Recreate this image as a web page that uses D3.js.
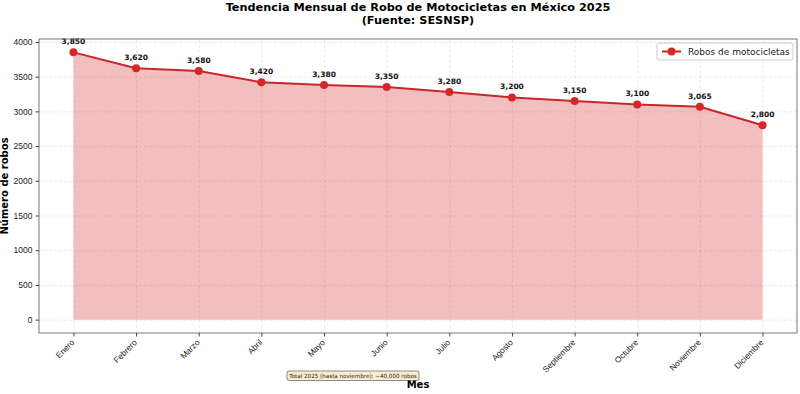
<!DOCTYPE html>
<html>
<head>
<meta charset="utf-8">
<script src="https://cdn.jsdelivr.net/npm/d3@7"></script>
<style>
  body { margin: 0; background: #fff; }
  svg { font-family: "DejaVu Sans", sans-serif; display: block; }
  .grid line { stroke: #b0b0b0; stroke-opacity: 0.25; stroke-dasharray: 3,2; }
  .grid path { display: none; }
</style>
</head>
<body>
<svg id="chart"></svg>
<script>
// chart data
const months = ["Enero", "Febrero", "Marzo", "Abril", "Mayo", "Junio", "Julio",
  "Agosto", "Septiembre", "Octubre", "Noviembre", "Diciembre"];
const robos = [3850, 3620, 3580, 3420, 3380, 3350, 3280, 3200, 3150, 3100, 3065, 2800];
const yTicks = [0, 500, 1000, 1500, 2000, 2500, 3000, 3500, 4000];

const width = 800;
const height = 394;
const plot = { left: 39, right: 797, top: 39, bottom: 333 };

const lineColor = "#c9252b";
const markerColor = "#d62728";

const svg = d3.select("#chart").attr("width", width).attr("height", height);

// scales (matplotlib-like 5% margins)
const xScale = d3.scaleLinear()
  .domain([-0.55, months.length - 1 + 0.55])
  .range([plot.left, plot.right]);

const yScale = d3.scaleLinear()
  .domain([-192.5, 4042.5])
  .range([plot.bottom, plot.top]);

// grid
svg.append("g")
  .attr("class", "grid")
  .attr("transform", "translate(0," + plot.bottom + ")")
  .call(d3.axisBottom(xScale).tickValues(d3.range(months.length))
    .tickSize(-(plot.bottom - plot.top)).tickFormat(""));
svg.append("g")
  .attr("class", "grid")
  .attr("transform", "translate(" + plot.left + ",0)")
  .call(d3.axisLeft(yScale).tickValues(yTicks)
    .tickSize(-(plot.right - plot.left)).tickFormat(""));

// area fill
const area = d3.area()
  .x((d, i) => xScale(i))
  .y0(yScale(0))
  .y1((d) => yScale(d));
svg.append("path")
  .datum(robos)
  .attr("d", area)
  .attr("fill", markerColor)
  .attr("fill-opacity", 0.3);

// line
const line = d3.line()
  .x((d, i) => xScale(i))
  .y((d) => yScale(d));
svg.append("path")
  .datum(robos)
  .attr("d", line)
  .attr("fill", "none")
  .attr("stroke", lineColor)
  .attr("stroke-width", 2);

// points
svg.selectAll("circle.pt")
  .data(robos)
  .enter()
  .append("circle")
  .attr("class", "pt")
  .attr("cx", (d, i) => xScale(i))
  .attr("cy", (d) => yScale(d))
  .attr("r", 4)
  .attr("fill", markerColor);

// value labels
svg.selectAll("text.val")
  .data(robos)
  .enter()
  .append("text")
  .attr("class", "val")
  .attr("x", (d, i) => xScale(i))
  .attr("y", (d) => yScale(d) - 8)
  .attr("text-anchor", "middle")
  .attr("font-size", 7.5)
  .attr("font-weight", "bold")
  .attr("fill", "#111")
  .text((d) => d3.format(",")(d));

// frame
svg.append("rect")
  .attr("x", plot.left)
  .attr("y", plot.top)
  .attr("width", plot.right - plot.left)
  .attr("height", plot.bottom - plot.top)
  .attr("fill", "none")
  .attr("stroke", "#555")
  .attr("stroke-width", 0.8);

// axes
const xAxis = svg.append("g")
  .attr("transform", "translate(0," + plot.bottom + ")")
  .call(d3.axisBottom(xScale).tickValues(d3.range(months.length))
    .tickFormat((i) => months[i]).tickSize(3.5));
xAxis.select(".domain").remove();
xAxis.selectAll("line").attr("stroke", "#444");
xAxis.selectAll("text")
  .attr("font-size", 8.3)
  .attr("fill", "#222")
  .attr("text-anchor", "end")
  .attr("dy", null)
  .attr("y", 0)
  .attr("transform", "translate(1,10) rotate(-45)");

const yAxis = svg.append("g")
  .attr("transform", "translate(" + plot.left + ",0)")
  .call(d3.axisLeft(yScale).tickValues(yTicks).tickSize(3.5).tickFormat(d3.format("d")));
yAxis.select(".domain").remove();
yAxis.selectAll("line").attr("stroke", "#444");
yAxis.selectAll("text").attr("font-size", 8.5).attr("fill", "#222");

// titles
svg.append("text")
  .attr("x", 418).attr("y", 11)
  .attr("text-anchor", "middle")
  .attr("font-size", 11.3)
  .attr("font-weight", "bold")
  .text("Tendencia Mensual de Robo de Motocicletas en México 2025");
svg.append("text")
  .attr("x", 418).attr("y", 24)
  .attr("text-anchor", "middle")
  .attr("font-size", 11.3)
  .attr("font-weight", "bold")
  .text("(Fuente: SESNSP)");

svg.append("text")
  .attr("x", 418).attr("y", 388)
  .attr("text-anchor", "middle")
  .attr("font-size", 10)
  .attr("font-weight", "bold")
  .text("Mes");

svg.append("text")
  .attr("transform", "translate(8," + ((plot.top + plot.bottom) / 2) + ") rotate(-90)")
  .attr("text-anchor", "middle")
  .attr("font-size", 10)
  .attr("font-weight", "bold")
  .text("Número de robos");

// legend
const legend = svg.append("g").attr("transform", "translate(657,43)");
legend.append("rect")
  .attr("width", 136).attr("height", 17)
  .attr("rx", 2)
  .attr("fill", "#fff").attr("fill-opacity", 0.85)
  .attr("stroke", "#ccc");
legend.append("line")
  .attr("x1", 5).attr("x2", 24).attr("y1", 8.5).attr("y2", 8.5)
  .attr("stroke", lineColor).attr("stroke-width", 2);
legend.append("circle")
  .attr("cx", 14.5).attr("cy", 8.5).attr("r", 4).attr("fill", markerColor);
legend.append("text")
  .attr("x", 31).attr("y", 12)
  .attr("font-size", 9)
  .attr("fill", "#222")
  .text("Robos de motocicletas");

// annotation box
const note = svg.append("g").attr("transform", "translate(287,371)");
note.append("rect")
  .attr("width", 132).attr("height", 9.5)
  .attr("rx", 2)
  .attr("fill", "#f5deb3").attr("fill-opacity", 0.6)
  .attr("stroke", "#444").attr("stroke-width", 0.6);
note.append("text")
  .attr("x", 66).attr("y", 7)
  .attr("text-anchor", "middle")
  .attr("font-size", 5.6)
  .attr("fill", "#222")
  .text("Total 2025 (hasta noviembre): ~40,000 robos");
</script>
</body>
</html>
